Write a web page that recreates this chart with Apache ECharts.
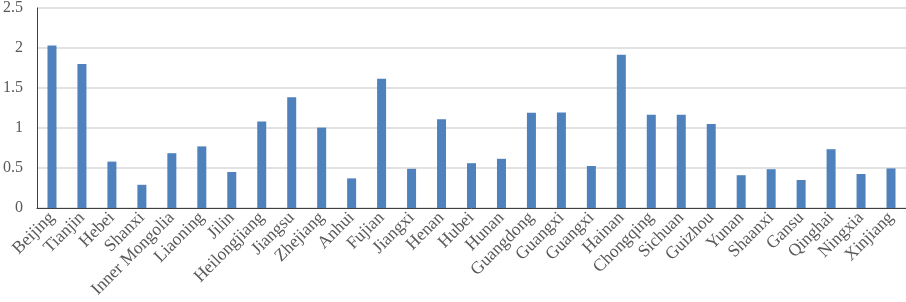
<!DOCTYPE html>
<html>
<head>
<meta charset="utf-8">
<script src="https://cdn.jsdelivr.net/npm/echarts@6/dist/echarts.min.js"></script>
<style>
html, body { margin: 0; padding: 0; background: #fff; }
#chart { width: 906px; height: 302px; }
</style>
</head>
<body>
<div id="chart"></div>
<script>
// provinces along the x axis
var provinces = ['Beijing', 'Tianjin', 'Hebei', 'Shanxi', 'Inner Mongolia', 'Liaoning', 'Jilin',
  'Heilongjiang', 'Jiangsu', 'Zhejiang', 'Anhui', 'Fujian', 'Jiangxi', 'Henan', 'Hubei', 'Hunan',
  'Guangdong', 'Guangxi', 'Guangxi', 'Hainan', 'Chongqing', 'Sichuan', 'Guizhou', 'Yunan',
  'Shaanxi', 'Gansu', 'Qinghai', 'Ningxia', 'Xinjiang'];
var values = [2.03, 1.80, 0.58, 0.29, 0.685, 0.77, 0.45, 1.08, 1.385, 1.005, 0.37, 1.615, 0.49,
  1.11, 0.56, 0.615, 1.19, 1.195, 0.525, 1.915, 1.165, 1.165, 1.05, 0.41, 0.485, 0.35, 0.735,
  0.425, 0.495];

var chart = echarts.init(document.getElementById('chart'));
var serif = '"Liberation Serif", "DejaVu Serif", serif';

chart.setOption({
  animation: false,
  grid: { left: 34, right: 0, top: 6, bottom: 94, containLabel: false },
  xAxis: {
    type: 'category',
    data: provinces,
    axisLine: { lineStyle: { color: '#404040', width: 1 } },
    axisTick: { show: false },
    axisLabel: {
      interval: 0,
      rotate: 45,
      margin: 7,
      fontFamily: serif,
      fontSize: 17.5,
      color: '#595959'
    }
  },
  yAxis: {
    type: 'value',
    min: 0,
    max: 2.5,
    interval: 0.5,
    axisLine: { show: true, lineStyle: { color: '#404040', width: 1 } },
    axisTick: { show: false },
    splitLine: { lineStyle: { color: '#d9d9d9', width: 1.5 } },
    axisLabel: {
      margin: 14,
      fontFamily: serif,
      fontSize: 16,
      color: '#595959'
    }
  },
  series: [{
    type: 'bar',
    data: values,
    barWidth: 9,
    itemStyle: { color: '#4f81bd' }
  }]
});
</script>
</body>
</html>
